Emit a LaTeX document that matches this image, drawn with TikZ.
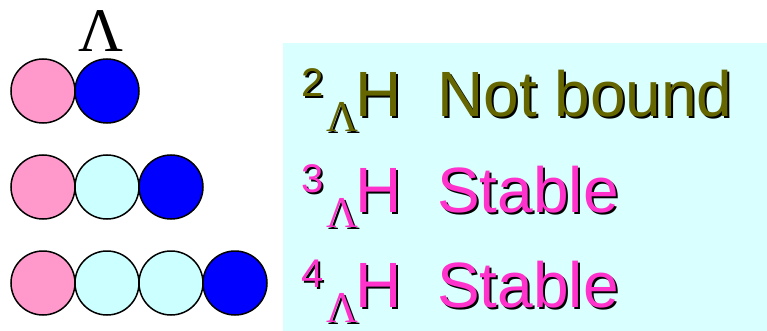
\documentclass[tikz,border=0pt]{standalone}
\usepackage{fontspec}
\setmainfont{Liberation Sans}
\newfontfamily\grk{Liberation Serif}
\usepackage{tikz}
\usetikzlibrary{positioning,calc}
\definecolor{pinkball}{HTML}{FF99CC}
\definecolor{cyanball}{HTML}{CCFFFF}
\definecolor{boxcyan}{HTML}{D9FFFF}
\definecolor{olivetxt}{HTML}{666600}
\definecolor{pinktxt}{HTML}{FF33CC}
\tikzset{ball/.style={circle, draw=black, line width=1.5pt, minimum size=64pt, inner sep=0pt, outer sep=0pt}}
\tikzset{txt/.style={inner sep=0pt, anchor=base west}}
\newcommand{\bigfont}{\fontsize{64}{64}\selectfont}
\newcommand{\supfont}{\fontsize{40}{40}\selectfont}
\newcommand{\subfont}{\grk\fontsize{44}{44}\selectfont}
% text with a black drop shadow
\newcommand{\shadowtext}[5]{%
  \node[txt, text=black, xshift=2pt, yshift=-2pt, font=#4] (#1s) at (#2) {#5};
  \node[txt, text=#3, font=#4] (#1) at (#2) {#5};}

\begin{document}
\begin{tikzpicture}[x=1pt,y=-1pt]
  \useasboundingbox (0,0) rectangle (767,331);
  \fill[boxcyan] (283,43) rectangle (767,331);

  % lambda label
  \node[inner sep=0pt, anchor=base, font=\grk\fontsize{62}{62}\selectfont] (lam) at (101,52) {Λ};

  % nuclei
  \node[ball, fill=pinkball] (a1) at (43,91) {};
  \node[ball, fill=blue, right=0pt of a1] (a2) {};

  \node[ball, fill=pinkball] (b1) at (43,187) {};
  \node[ball, fill=cyanball, right=0pt of b1] (b2) {};
  \node[ball, fill=blue, right=0pt of b2] (b3) {};

  \node[ball, fill=pinkball] (c1) at (43,283) {};
  \node[ball, fill=cyanball, right=0pt of c1] (c2) {};
  \node[ball, fill=cyanball, right=0pt of c2] (c3) {};
  \node[ball, fill=blue, right=0pt of c3] (c4) {};

  % labels
  \coordinate (r1) at (0,117);
  \coordinate (r2) at (0,212);
  \coordinate (r3) at (0,307);

  \shadowtext{m1}{$(r1)+(301,-20)$}{olivetxt}{\supfont}{2}
  \shadowtext{l1}{$(r1)+(326,15)$}{olivetxt}{\subfont}{Λ}
  \shadowtext{h1}{$(r1)+(355,0)$}{olivetxt}{\bigfont}{H}
  \shadowtext{s1}{$(r1)+(437,0)$}{olivetxt}{\bigfont}{Not bound}

  \shadowtext{m2}{$(r2)+(301,-20)$}{pinktxt}{\supfont}{3}
  \shadowtext{l2}{$(r2)+(326,15)$}{pinktxt}{\subfont}{Λ}
  \shadowtext{h2}{$(r2)+(355,0)$}{pinktxt}{\bigfont}{H}
  \shadowtext{s2}{$(r2)+(437,0)$}{pinktxt}{\bigfont}{Stable}

  \shadowtext{m3}{$(r3)+(301,-20)$}{pinktxt}{\supfont}{4}
  \shadowtext{l3}{$(r3)+(326,15)$}{pinktxt}{\subfont}{Λ}
  \shadowtext{h3}{$(r3)+(355,0)$}{pinktxt}{\bigfont}{H}
  \shadowtext{s3}{$(r3)+(437,0)$}{pinktxt}{\bigfont}{Stable}
\end{tikzpicture}
\end{document}
